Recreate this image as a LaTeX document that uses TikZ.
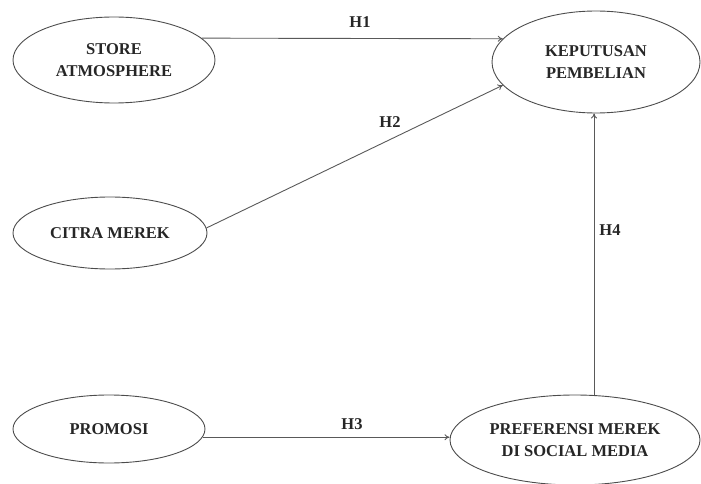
\documentclass[tikz,border=0pt]{standalone}
\usepackage{fontspec}
\setmainfont{Liberation Serif}
\usetikzlibrary{shapes.geometric,arrows.meta}
\begin{document}
\begin{tikzpicture}[x=1pt,y=-1pt,
  var/.style={draw=black!70,line width=0.9pt,ellipse,inner sep=0pt,align=center,
    font=\fontsize{16.5}{22}\selectfont\bfseries,text=black!85},
  link/.style={draw=black!65,line width=0.9pt,-{To[length=5pt,width=6pt]}},
  hlab/.style={font=\fontsize{16.5}{20}\selectfont\bfseries,text=black!85,inner sep=0pt}]
\useasboundingbox (0,0) rectangle (701,484);
\node[var,minimum width=202pt,minimum height=86pt] (st) at (114,60) {STORE\\ATMOSPHERE};
\node[var,minimum width=208pt,minimum height=102pt] (kp) at (596,62) {KEPUTUSAN\\PEMBELIAN};
\node[var,minimum width=194pt,minimum height=72pt] (cm) at (110,233) {CITRA MEREK};
\node[var,minimum width=192pt,minimum height=68pt] (pr) at (109,429) {PROMOSI};
\node[var,minimum width=250pt,minimum height=90pt] (pf) at (575,440) {PREFERENSI MEREK\\DI SOCIAL MEDIA};
\draw[link] (st.14) -- (kp.166);
\draw[link] (cm.3) -- (kp.194);
\draw[link] (pr.-5) -- (pr.-5 -| pf.west);
\draw[link] (pf.67) -- (pf.67 |- kp.south);
\node[hlab] (h1) at (360,22) {H1};
\node[hlab] (h2) at (390,122) {H2};
\node[hlab] (h3) at (352,424) {H3};
\node[hlab] (h4) at (610,230) {H4};
\end{tikzpicture}
\end{document}
